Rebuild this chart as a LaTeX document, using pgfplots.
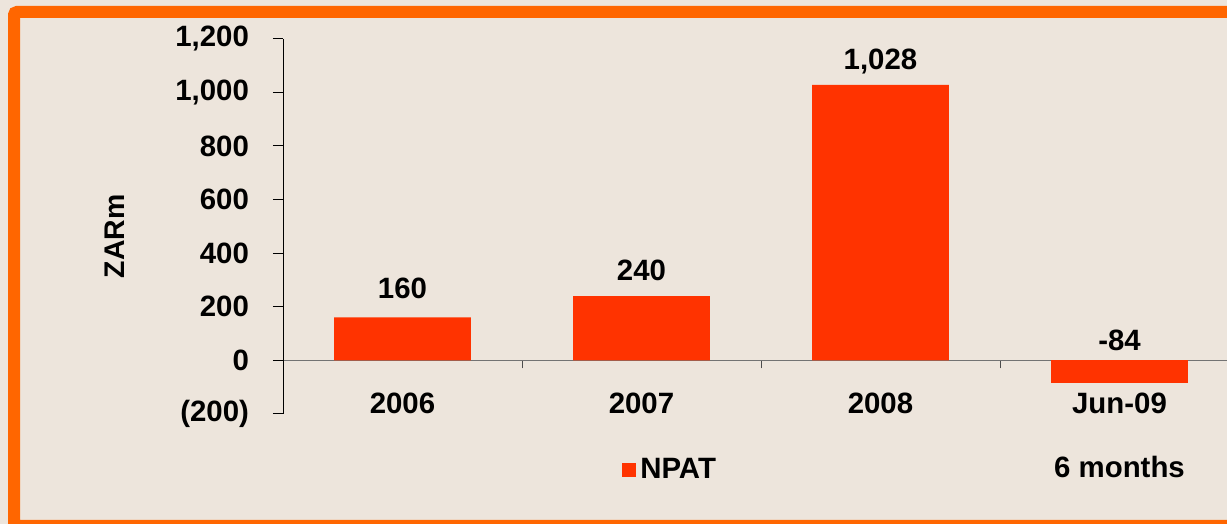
\documentclass[border=0pt]{standalone}
\usepackage{pgfplots}
\pgfplotsset{compat=1.18}
\usepackage{fontspec}
\setmainfont{Liberation Sans}
\definecolor{bg}{RGB}{237,229,220}
\definecolor{frame}{RGB}{255,102,0}
\definecolor{barred}{RGB}{255,51,0}
\newcommand{\lf}{\bfseries\fontsize{14.7}{17}\selectfont}
\newcommand{\yf}{\bfseries\fontsize{14.2}{17}\selectfont}
\pgfplotstableread{
x y sh
0 160 14.5
1 240 13
2 1028 11.5
}\positive
\begin{document}
\begin{tikzpicture}[x=0.5pt,y=0.5pt]
\useasboundingbox (0,0) rectangle (1227,524);
\fill[bg] (0,0) rectangle (1227,524);
\begin{scope}
\clip (0,0) rectangle (1227,524);
\draw[frame,line width=6pt,rounded corners=1.5pt] (14,512) rectangle (1260,-2);
\begin{axis}[
  at={(141.5pt,55pt)}, anchor=south west, scale only axis,
  width=478pt, height=187.65pt,
  xmin=-0.5, xmax=3.5, ymin=-200, ymax=1200,
  clip=false,
  axis y line*=left, axis x line*=middle,
  y axis line style={black, line width=0.5pt},
  x axis line style={black!55, line width=0.8pt},
  ybar,
  ytick={-200,0,200,400,600,800,1000,1200},
  yticklabels={(200),0,200,400,600,800,{1,000},{1,200}},
  xtick={0,1,2,3},
  xticklabels={2006,2007,2008,Jun-09},
  minor xtick={-0.5,0.5,1.5,2.5,3.5},
  major x tick style={draw=none},
  minor x tick style={black!70, line width=0.5pt},
  major y tick style={black, line width=0.5pt},
  tick align=outside,
  major tick length=5pt, minor tick length=4pt,
  tick label style={font=\lf},
  yticklabel style={xshift=-8.5pt},
  xticklabel style={yshift=-8pt},
  /pgf/number format/assume math mode=true,
  ylabel={ZARm},
  every axis y label/.style={at={(rel axis cs:-0.176,0.473)}, rotate=90, anchor=center, font=\yf},
  legend style={font=\lf, draw=none, fill=none, at={(rel axis cs:0.406,-0.149)}, anchor=center, inner sep=0pt},
  legend image code/.code={\draw[#1,/tikz/.cd,draw=none] (0pt,-3.5pt) rectangle (7pt,3.5pt);},
]
\addplot[fill=barred, draw=none, bar width=0.573, bar shift=0pt,
  visualization depends on={\thisrow{sh} \as \sh},
  nodes near coords, nodes near coords style={font=\lf, anchor=center, yshift=\sh pt, text=black}]
  table[x=x, y=y] {\positive};
\addlegendentry{NPAT}
\addplot[fill=barred, draw=none, bar width=0.573, bar shift=0pt, forget plot,
  nodes near coords, nodes near coords style={font=\lf, anchor=center, yshift=21.25pt, text=black}]
  coordinates {(3,-84)};
\node[font=\lf, anchor=center] at (axis cs:3,-398) {6 months};
\end{axis}
\end{scope}
\end{tikzpicture}
\end{document}
